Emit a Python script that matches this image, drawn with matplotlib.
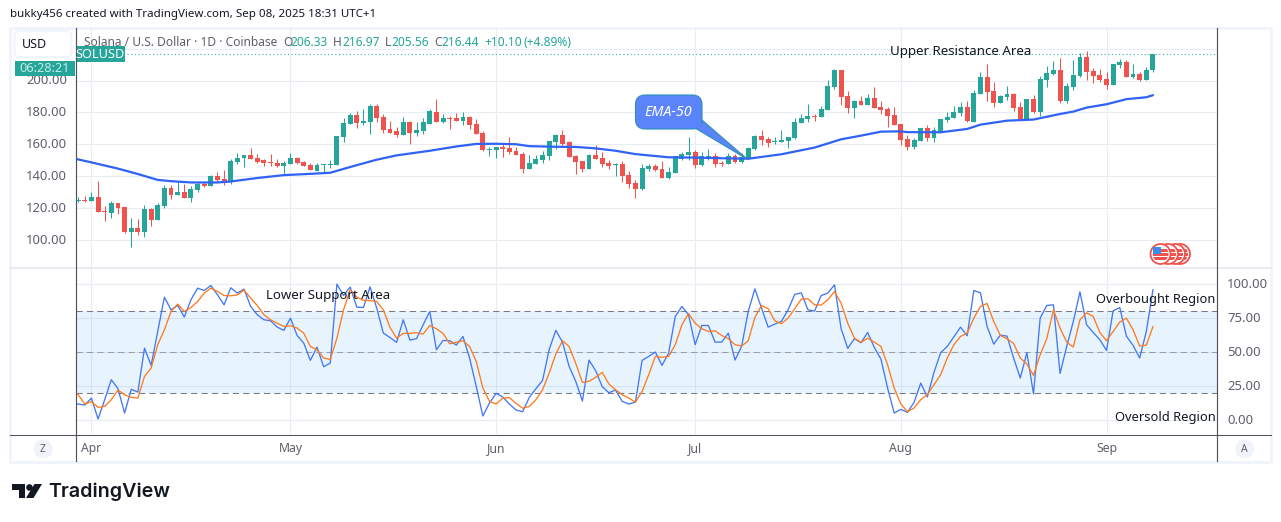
import numpy as np
import pandas as pd
import matplotlib
matplotlib.use('Agg')
import matplotlib.pyplot as plt
from matplotlib.patches import Rectangle, Circle, Polygon, FancyBboxPatch
from matplotlib.lines import Line2D
from matplotlib.transforms import ScaledTranslation

W, H = 1281, 522
plt.rcParams['font.family'] = ['Noto Sans', 'DejaVu Sans']

# daily candles, first one is 30 Mar 2025, last one 8 Sep 2025
opens = [124.5, 124.8, 124.1, 126.6, 117.8, 116.6, 122.8, 120.5, 105.2, 107.1,
         104.6, 119.1, 112.2, 121.0, 132.3, 127.9, 129.8, 126.0, 131.0, 134.8,
         133.5, 139.8, 137.9, 136.1, 148.6, 151.2, 153.0, 151.2, 149.9, 148.4,
         148.0, 146.1, 147.6, 151.2, 148.6, 146.7, 143.4, 146.8, 147.2, 146.7,
         164.4, 172.5, 178.2, 173.2, 173.8, 183.9, 176.9, 169.4, 168.1, 165.6,
         173.8, 166.9, 168.1, 173.0, 180.3, 173.8, 176.5, 176.3, 174.4, 176.9,
         172.5, 166.9, 156.4, 156.2, 158.0, 157.4, 155.6, 153.7, 144.2, 147.4,
         149.9, 152.4, 161.2, 165.6, 161.2, 152.4, 149.3, 144.2, 153.0, 151.2,
         148.0, 146.8, 147.4, 140.5, 135.4, 131.7, 144.2, 146.1, 144.2, 138.6,
         141.7, 150.5, 153.0, 154.9, 146.7, 151.8, 152.4, 148.2, 147.4, 152.4,
         148.6, 151.2, 156.8, 165.0, 163.1, 161.4, 161.2, 161.8, 163.7, 173.2,
         175.7, 177.7, 176.9, 181.3, 195.8, 206.5, 190.1, 182.6, 187.0, 184.5,
         188.9, 183.2, 182.0, 178.2, 172.5, 163.1, 158.0, 161.8, 170.0, 163.7,
         167.5, 175.1, 176.3, 179.5, 183.2, 173.8, 191.4, 202.1, 193.3, 185.7,
         189.5, 191.4, 183.2, 175.7, 188.3, 180.1, 200.2, 204.0, 206.5, 187.0,
         195.8, 202.7, 214.7, 205.9, 203.4, 200.8, 197.1, 209.6, 211.5, 202.1,
         204.0, 200.2, 206.33]
highs = [126.8, 127.5, 130.0, 136.7, 121.0, 124.5, 122.8, 120.5, 113.4, 112.8,
         121.6, 119.7, 122.8, 134.2, 134.2, 136.1, 134.8, 133.5, 136.1, 136.1,
         140.5, 142.3, 143.6, 150.5, 154.3, 153.0, 157.4, 153.7, 150.5, 153.7,
         150.5, 149.3, 154.3, 151.8, 149.3, 148.0, 148.0, 147.4, 150.3, 165.0,
         176.3, 179.5, 180.7, 182.0, 185.1, 185.1, 178.8, 174.4, 170.6, 176.9,
         174.4, 173.8, 176.3, 182.0, 188.3, 178.8, 177.6, 179.5, 180.1, 177.6,
         175.7, 168.1, 158.3, 158.0, 160.6, 164.4, 158.0, 154.9, 153.0, 153.0,
         155.6, 161.8, 166.2, 168.8, 161.8, 153.0, 149.3, 153.7, 159.3, 154.9,
         149.9, 148.0, 149.3, 143.0, 137.3, 147.4, 147.4, 147.4, 149.3, 145.5,
         152.4, 154.9, 164.4, 156.2, 154.9, 156.8, 154.3, 149.3, 154.3, 153.7,
         154.3, 158.0, 165.6, 168.8, 164.4, 164.4, 168.8, 164.4, 176.3, 178.8,
         185.1, 178.8, 183.9, 200.2, 207.1, 206.5, 193.3, 187.6, 190.1, 191.4,
         195.8, 187.0, 183.2, 183.2, 172.5, 165.6, 163.7, 170.0, 171.9, 170.6,
         175.7, 180.1, 183.9, 186.4, 187.0, 193.9, 205.2, 210.3, 198.9, 190.8,
         196.4, 192.0, 186.4, 188.3, 190.8, 202.7, 209.0, 212.2, 214.0, 198.3,
         212.8, 217.2, 218.4, 207.8, 207.1, 205.2, 210.3, 213.4, 212.8, 210.3,
         205.2, 208.4, 216.97]
lows = [123.5, 123.5, 124.1, 117.2, 112.0, 113.4, 116.4, 104.0, 95.2, 102.7,
        101.5, 108.4, 112.2, 119.7, 125.4, 127.9, 126.0, 123.5, 129.8, 133.1,
        133.5, 136.1, 134.2, 134.8, 147.4, 145.5, 150.5, 148.0, 146.1, 146.1,
        145.7, 140.5, 147.6, 147.4, 146.1, 143.6, 143.0, 142.4, 145.3, 146.7,
        161.2, 172.5, 170.0, 171.9, 166.2, 173.8, 166.9, 166.9, 164.4, 165.6,
        160.0, 165.0, 166.2, 172.5, 173.8, 173.2, 169.4, 174.4, 171.9, 169.4,
        166.2, 155.6, 152.4, 151.2, 151.8, 153.7, 153.0, 141.7, 144.2, 147.4,
        148.0, 149.9, 156.8, 159.3, 151.8, 141.1, 142.4, 144.2, 150.5, 145.5,
        144.2, 139.8, 136.1, 132.3, 126.0, 131.0, 143.0, 143.0, 138.6, 137.9,
        141.7, 149.9, 149.9, 144.9, 146.1, 149.9, 145.5, 146.1, 147.4, 148.0,
        148.0, 150.5, 156.2, 159.3, 158.0, 160.0, 161.2, 157.4, 163.1, 173.2,
        173.8, 174.4, 176.9, 181.3, 194.5, 184.5, 179.5, 176.3, 184.5, 184.5,
        182.6, 178.8, 170.6, 171.9, 159.3, 156.2, 156.8, 161.8, 161.8, 161.2,
        167.5, 173.8, 176.3, 177.6, 173.8, 173.8, 191.4, 187.0, 183.2, 185.7,
        187.6, 180.7, 175.7, 175.1, 179.5, 177.6, 195.8, 203.4, 185.7, 185.7,
        193.9, 202.1, 200.2, 198.3, 198.9, 194.5, 197.1, 207.8, 202.1, 201.5,
        199.6, 200.2, 205.56]
closes = [124.9, 124.5, 126.6, 117.2, 117.3, 122.8, 119.7, 105.2, 107.1, 104.6,
          119.1, 112.2, 121.6, 132.3, 127.9, 129.8, 126.0, 131.7, 134.8, 133.5,
          139.8, 137.3, 136.1, 149.3, 151.2, 153.0, 150.5, 148.6, 148.0, 148.2,
          146.1, 148.0, 151.2, 148.0, 146.3, 143.6, 146.7, 147.2, 147.6, 165.0,
          173.2, 178.2, 173.2, 174.4, 183.9, 176.3, 168.8, 167.3, 165.6, 173.8,
          166.9, 168.8, 173.8, 180.9, 173.8, 176.3, 176.1, 174.4, 176.9, 171.9,
          166.2, 156.2, 156.8, 158.0, 156.8, 154.9, 153.0, 144.2, 148.0, 150.5,
          153.0, 161.8, 165.6, 160.0, 151.8, 148.6, 144.2, 153.0, 150.5, 147.4,
          146.1, 147.4, 139.8, 134.8, 131.7, 144.9, 146.1, 143.6, 138.6, 142.4,
          152.4, 153.7, 154.9, 146.7, 152.4, 152.4, 147.4, 147.8, 152.4, 148.6,
          151.8, 157.4, 165.0, 162.5, 160.6, 161.8, 162.5, 164.4, 173.8, 176.3,
          177.6, 177.4, 182.0, 196.4, 206.5, 189.5, 182.6, 187.2, 184.5, 188.9,
          182.6, 181.3, 177.6, 171.9, 162.5, 158.0, 162.5, 170.0, 163.7, 168.8,
          175.7, 176.9, 180.1, 183.2, 174.4, 192.0, 202.1, 192.7, 185.7, 190.1,
          191.4, 182.6, 175.7, 188.3, 180.1, 200.8, 204.6, 206.5, 187.0, 196.4,
          203.4, 214.7, 205.2, 202.7, 200.2, 197.1, 210.3, 211.5, 202.1, 204.0,
          200.2, 206.5, 216.44]

# EMA-50, days counted from 1 Apr
ema_days = [-3, 0, 4, 7, 10, 12, 15, 19, 21, 25, 29, 33, 36, 39, 43, 46, 51, 55, 58, 61, 64, 66, 70, 73,
            76, 79, 82, 87, 91, 95, 99, 104, 109, 111, 113, 116, 119, 122, 123, 128, 132, 134, 138,
            142, 146, 148, 150, 153, 156, 159, 160]
ema_values = [151.4, 148.6, 144.7, 141.3, 137.6, 136.8, 136.0, 136.0, 136.6, 138.8, 140.6, 141.4, 142.1,
              145.7, 150.3, 153.0, 155.9, 158.6, 160.2, 160.3, 160.0, 158.8, 158.4, 158.3, 157.4, 155.9,
              153.8, 151.8, 151.6, 151.2, 150.9, 153.7, 157.9, 160.5, 163.1, 165.4, 167.9, 168.1, 167.6,
              167.5, 169.6, 172.3, 174.8, 175.5, 179.0, 180.5, 183.0, 185.1, 188.3, 189.5, 190.8]

# stochastic pane, one value per day from 29 Mar
stoch_k = [11.8, 11.7, 11.0, 16.1, 0.7, 14.9, 29.6, 23.0, 5.1, 22.5, 20.5,
           52.8, 40.1, 65.0, 90.2, 80.9, 84.1, 75.6, 88.3, 96.8, 95.1,
           98.8, 91.9, 84.6, 97.1, 93.2, 96.1, 83.4, 77.3, 73.6, 72.9,
           68.2, 65.8, 74.8, 62.1, 56.5, 43.8, 53.5, 39.1, 41.8, 99.8,
           91.4, 97.6, 82.9, 82.6, 97.8, 82.2, 63.8, 60.6, 57.0, 73.6,
           58.7, 59.7, 69.9, 79.7, 51.6, 58.4, 58.2, 55.0, 61.4, 45.5,
           24.7, 2.9, 12.5, 19.6, 16.9, 11.7, 7.3, 6.1, 16.6, 23.0,
           29.1, 51.8, 65.8, 57.2, 39.4, 28.4, 13.9, 44.0, 36.2, 24.4,
           20.0, 22.0, 13.7, 11.7, 13.2, 43.8, 46.7, 49.9, 40.1, 49.1,
           76.0, 83.4, 77.3, 55.3, 69.4, 69.4, 57.2, 57.2, 63.8, 44.0,
           54.0, 79.7, 96.3, 82.2, 68.2, 70.4, 72.4, 80.9, 92.2, 93.4,
           80.9, 80.0, 91.4, 93.2, 99.3, 67.0, 52.6, 59.7, 56.7, 64.3,
           53.3, 44.7, 23.5, 5.1, 7.8, 5.6, 13.0, 27.1, 16.9, 35.0,
           49.4, 54.0, 61.1, 68.2, 61.9, 95.1, 93.4, 68.7, 55.7, 62.3,
           61.6, 45.5, 30.8, 49.4, 19.1, 74.8, 84.1, 84.6, 34.2, 54.0,
           72.4, 94.1, 69.9, 64.3, 58.9, 51.1, 80.2, 82.6, 61.6, 54.8,
           45.5, 65.0, 95.6]
stoch_d = [23.5, 18.6, 11.7, 13.4, 9.3, 10.0, 14.9, 22.0, 18.6, 16.6, 16.1,
           32.0, 38.1, 55.3, 66.3, 79.7, 85.1, 79.7, 82.6, 87.0, 93.2,
           96.8, 94.4, 91.4, 91.2, 91.9, 95.4, 89.5, 84.1, 77.3, 73.6,
           71.1, 68.7, 69.2, 67.5, 63.8, 54.0, 51.6, 45.5, 44.5, 60.1,
           80.9, 95.6, 90.2, 87.8, 87.8, 87.0, 80.9, 68.0, 60.1, 63.6,
           63.6, 64.1, 63.1, 69.4, 67.0, 63.6, 56.0, 57.0, 58.2, 54.0,
           43.0, 23.5, 13.7, 11.7, 16.1, 16.4, 12.2, 8.6, 10.0, 14.9,
           22.2, 34.5, 48.4, 58.2, 54.0, 41.6, 27.6, 28.4, 31.3, 35.0,
           26.4, 22.2, 18.6, 16.1, 13.2, 21.0, 33.3, 46.7, 46.0, 46.7,
           55.3, 69.9, 78.2, 71.1, 67.0, 65.0, 65.5, 62.1, 59.7, 55.3,
           54.3, 58.2, 75.3, 84.1, 81.7, 72.9, 70.7, 74.8, 81.7, 88.8,
           89.0, 84.6, 84.4, 88.3, 94.4, 85.8, 71.1, 60.1, 57.0, 60.1,
           57.2, 54.0, 40.6, 23.5, 11.7, 6.1, 8.8, 14.9, 18.6, 25.9,
           33.3, 45.5, 55.3, 61.4, 63.8, 74.8, 83.4, 85.6, 72.4, 62.1,
           59.7, 56.2, 45.5, 41.1, 32.8, 47.9, 59.7, 80.9, 67.5, 57.2,
           53.5, 73.6, 78.7, 76.0, 64.3, 58.2, 65.0, 71.9, 74.8, 66.3,
           54.3, 55.0, 68.5]

price_ticks = [100, 120, 140, 160, 180, 200, 220]
price_labels = ['100.00', '120.00', '140.00', '160.00', '180.00', '200.00', '']
stoch_ticks = [0, 25, 50, 75, 100]
stoch_labels = ['0.00', '25.00', '50.00', '75.00', '100.00']
month_labels = ['Apr', 'May', 'Jun', 'Jul', 'Aug', 'Sep']
month_dates = pd.to_datetime(['2025-04-01', '2025-05-01', '2025-06-01', '2025-07-01', '2025-08-01', '2025-09-01'])

GREEN = '#26a69a'
RED = '#ef5350'
GRID = '#e8ecf3'
AXIS = '#50535e'
LABEL = '#5d606b'
BLUE = '#2f62f5'


def fx(x):
    return x / W


def fy(y):
    return 1 - y / H


def pane(left, top, right, bottom):
    return fig.add_axes([fx(left), fy(bottom), fx(right - left), (bottom - top) / H])


def frect(x0, y0, x1, y1, **kw):
    fig.add_artist(Rectangle((fx(x0), fy(y1)), fx(x1 - x0), (y1 - y0) / H, transform=fig.transFigure, **kw))


def fline(x0, y0, x1, y1, color, lw=0.75):
    fig.add_artist(Line2D([fx(x0), fx(x1)], [fy(y0), fy(y1)], transform=fig.transFigure, color=color, lw=lw))


def ftext(x, y, s, **kw):
    kw.setdefault('va', 'center')
    kw.setdefault('ha', 'left')
    kw.setdefault('fontsize', 9.2)
    return fig.text(fx(x), fy(y), s, **kw)


fig = plt.figure(figsize=(W / 100, H / 100), dpi=100, facecolor='white')

dates = pd.date_range('2025-03-30', periods=len(closes))
stoch_dates = pd.date_range('2025-03-29', periods=len(stoch_k))
ema_dates = pd.Timestamp('2025-04-01') + pd.to_timedelta(ema_days, unit='D')
opens = np.array(opens)
closes = np.array(closes)
colors = [GREEN if c >= o else RED for o, c in zip(opens, closes)]
x_left = pd.Timestamp('2025-04-01') - pd.Timedelta(days=2.4)
x_right = pd.Timestamp('2025-04-01') + pd.Timedelta(days=169.7)

# price pane
ax = pane(75.5, 27.5, 1217.3, 267.5)
ax.set_xlim(x_left, x_right)
ax.set_ylim(82.6, 233.3)
ax.set_yticks(price_ticks)
ax.set_yticklabels(price_labels)
ax.grid(True, color=GRID, lw=0.8)
ax.set_axisbelow(True)
ax.vlines(dates, lows, highs, color=colors, lw=0.75, zorder=2)
bodies = np.abs(closes - opens)
bodies[bodies < 0.5] = 0.5
ax.bar(dates, bodies, bottom=np.minimum(opens, closes), width=0.74, color=colors, lw=0, zorder=3)
ax.plot(ema_dates, ema_values, color=BLUE, lw=1.6, zorder=4, solid_capstyle='round')
ax.axhline(closes[-1] + 0.3, color=GREEN, lw=0.75, ls=(0, (1, 2.5)), zorder=1.5)

# stochastic pane
ax2 = pane(75.5, 267.5, 1217.3, 434)
ax2.set_xlim(x_left, x_right)
ax2.set_ylim(-10.3, 112)
ax2.set_yticks(stoch_ticks)
ax2.set_yticklabels(stoch_labels)
ax2.yaxis.tick_right()
ax2.grid(True, color=GRID, lw=0.8)
ax2.set_axisbelow(True)
ax2.axhspan(20, 80, color='#2196f3', alpha=0.1, lw=0, zorder=1)
ax2.axhline(80, color='#787b86', lw=0.75, ls=(0, (6, 4)), zorder=1.5)
ax2.axhline(50, color='#9a9da6', lw=0.75, ls=(0, (6, 4)), zorder=1.5)
ax2.axhline(20, color='#787b86', lw=0.75, ls=(0, (6, 4)), zorder=1.5)
ax2.plot(stoch_dates, stoch_k, color='#4478f2', lw=0.95, zorder=3)
ax2.plot(stoch_dates, stoch_d, color='#ff7a1f', lw=0.95, zorder=3)
ax2.set_xticks(month_dates)
ax2.set_xticklabels(month_labels)

for a in (ax, ax2):
    for s in a.spines.values():
        s.set_visible(False)
    a.patch.set_alpha(0)
ax.set_xticks(month_dates)
ax.set_xticklabels([])
ax.tick_params(axis='x', length=0)
ax.tick_params(axis='y', length=0, pad=6, labelcolor=LABEL, labelsize=9.4)
ax2.tick_params(axis='y', length=0, pad=7, labelcolor=LABEL, labelsize=9.4)
ax2.tick_params(axis='x', length=0, pad=6, labelcolor=LABEL, labelsize=8.8)
# tick labels sit one pixel higher in the reference
up = ScaledTranslation(0, 1.2 / 100, fig.dpi_scale_trans)
for lab in ax.get_yticklabels() + ax2.get_yticklabels():
    lab.set_transform(lab.get_transform() + up)

# frame around the chart
frect(10, 27.5, 1271, 462, fill=False, ec='#f0f3fa', lw=2, zorder=0)
fline(10, 267.5, 1271, 267.5, '#e3e6ee', 1.1)
fline(10, 434.5, 1271, 434.5, AXIS)
fline(75.5, 27.5, 75.5, 461, AXIS, 0.85)
fline(1217.3, 27.5, 1217.3, 461, AXIS, 0.85)

# header and legend row
ftext(10, 15, 'bukky456 created with TradingView.com, Sep 08, 2025 18:31 UTC+1', color='#131722', fontsize=8.3)
ftext(84, 42, 'Solana / U.S. Dollar \u00b7 1D \u00b7 Coinbase', color=LABEL, fontsize=8.6)
for x, s, c in [(283, 'O', LABEL), (290.5, '206.33', GREEN), (333, 'H', LABEL), (342, '216.97', GREEN),
                (385, 'L', LABEL), (391, '205.56', GREEN), (434, 'C', LABEL), (441, '216.44', GREEN),
                (484, '+10.10', GREEN), (524, '(+4.89%)', GREEN)]:
    ftext(x, 42, s, color=c, fontsize=8.6)

# left side price widgets
fig.add_artist(FancyBboxPatch((fx(14.5), fy(57)), fx(57), 26 / H, boxstyle='round,pad=0,rounding_size=0.004',
                              transform=fig.transFigure, fc='white', ec='#f0f3fa', lw=1.3, mutation_aspect=W / H))
ftext(34.5, 44.5, 'USD', ha='center', color='#131722', fontsize=9)
frect(15, 61, 75, 76, fc=GREEN, ec='none')
ftext(45, 68.3, '06:28:21', ha='center', color='#c4ebe5', fontsize=9.2)
frect(76, 46.5, 125, 62, fc=GREEN, ec='none')
ftext(100.5, 54, 'SOLUSD', ha='center', color='white', fontsize=9.2, fontweight='medium')

# EMA-50 callout
tail = Polygon([[fx(695), fy(128)], [fx(747), fy(159)], [fx(702), fy(120)]], transform=fig.transFigure,
               fc='#5b84fb', ec='#2a8fb5', lw=0.8)
fig.add_artist(tail)
fig.add_artist(FancyBboxPatch((fx(635.5), fy(129)), fx(66.5), 34 / H, boxstyle='round,pad=0,rounding_size=0.0075',
                              transform=fig.transFigure, fc='#5b84fb', ec='#2a8fb5', lw=0.8, mutation_aspect=W / H))
frect(694, 121, 701.4, 128.4, fc='#5b84fb', ec='none')
ftext(668.5, 112, 'EMA-50', ha='center', color='white', style='italic', fontweight='semibold', fontsize=10.3)

# text notes on the chart
ftext(890, 51.5, 'Upper Resistance Area', color='#131722', fontsize=9.55)
ftext(266, 295.5, 'Lower Support Area', color='#131722', fontsize=9.55)
ftext(1096, 299.5, 'Overbought Region', color='#131722', fontsize=9.25)
ftext(1115, 417.5, 'Oversold Region', color='#131722', fontsize=9.3)

# Z and A buttons
for cx, s in [(43, 'Z'), (1244.6, 'A')]:
    fig.add_artist(Circle((cx, H - 449), 9.5, transform=None, fc='#f0f3fa', ec='none'))
    ftext(cx, 449, s, ha='center', color=LABEL, fontsize=7.5)

# economic event flags
for cx in [1180, 1175, 1168, 1160.5]:
    c = Circle((cx, H - 254), 10, transform=None, fc='white', ec=RED, lw=1.3)
    fig.add_artist(c)
    for y0 in [249.5, 253.5, 257.5]:
        r = Rectangle((cx - 8, H - y0 - 2), 16, 2.2, transform=None, fc=RED, ec='none')
        fig.add_artist(r)
        r.set_clip_path(Circle((cx, H - 254), 8, transform=None))
    if cx == 1160.5:
        b = Rectangle((cx - 8, H - 254), 8, 7, transform=None, fc='#3d8bea', ec='none')
        fig.add_artist(b)

# logo
fig.add_artist(Polygon([[fx(12), fy(484)], [fx(25), fy(484)], [fx(25), fy(498)], [fx(19), fy(498)], [fx(19), fy(490)], [fx(12), fy(490)]],
                       transform=fig.transFigure, fc='#131722', ec='none'))
fig.add_artist(Circle((29.5, H - 487.5), 3.3, transform=None, fc='#131722', ec='none'))
fig.add_artist(Polygon([[fx(34.5), fy(484)], [fx(42), fy(484)], [fx(33.5), fy(498)], [fx(26), fy(498)]],
                       transform=fig.transFigure, fc='#131722', ec='none'))
ftext(48.5, 491.5, 'TradingView', color='#131722', fontsize=14.2, fontweight='semibold', family=['Inter', 'DejaVu Sans'])

fig.savefig('out.png', dpi=100)
